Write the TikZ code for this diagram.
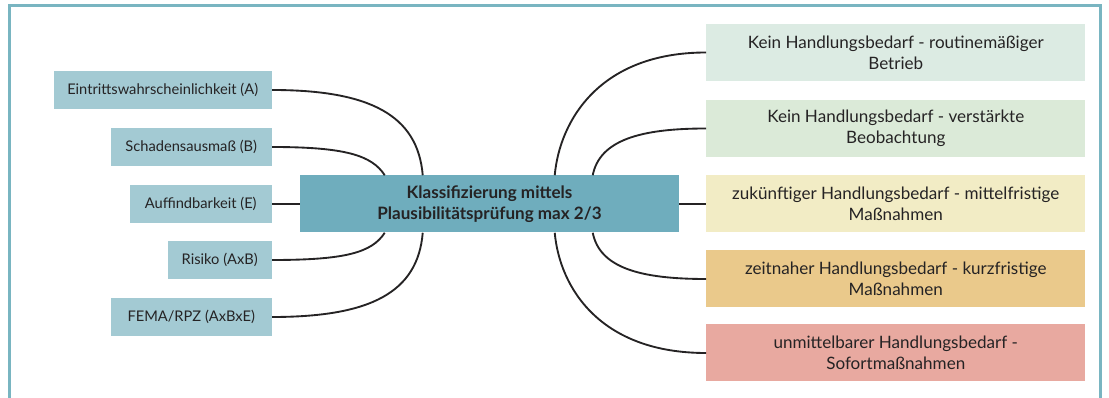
\documentclass[tikz,border=0pt]{standalone}
\usepackage{fontspec}
\setmainfont{Lato}
\usetikzlibrary{calc}

\definecolor{frameteal}{HTML}{79B5C1}
\definecolor{leftfill}{HTML}{A3CAD3}
\definecolor{hubfill}{HTML}{6FADBD}
\definecolor{fillone}{HTML}{DCEBE3}
\definecolor{filltwo}{HTML}{DBEAD8}
\definecolor{fillthree}{HTML}{F2ECC5}
\definecolor{fillfour}{HTML}{EAC98B}
\definecolor{fillfive}{HTML}{E8A9A0}
\definecolor{inkdark}{HTML}{252324}

\tikzset{
  leftbox/.style={fill=leftfill, anchor=east, minimum height=28.5pt,
    inner sep=0pt, text=inkdark, font=\fontsize{11}{14}\selectfont},
  hubbox/.style={fill=hubfill, minimum width=284.25pt, minimum height=42.75pt,
    inner sep=0pt, align=center, text=inkdark,
    font=\fontsize{12.8}{15.75}\selectfont\bfseries},
  rightbox/.style={anchor=west, minimum width=284.25pt, minimum height=42.75pt,
    inner sep=0pt, align=center, text=inkdark,
    font=\fontsize{12.8}{15.75}\selectfont},
  link/.style={draw=inkdark, line width=1.4pt},
  frameline/.style={draw=frameteal, line width=2.25pt}
}

\begin{document}
\begin{tikzpicture}[x=0.75pt, y=-0.75pt]
  \useasboundingbox (0,0) rectangle (1109,398);

  % open frame around the diagram
  \draw[frameline] (9,398) -- (9,6) -- (1100.5,6) -- (1100.5,398);

  % central node
  \node[hubbox] (hub) at (489.5,204)
    {Klassifizierung mittels\\Plausibilitätsprüfung max 2/3};

  % input criteria on the left
  \node[leftbox, minimum width=163.5pt]  (ea) at (272,90)  {Eintrittswahrscheinlichkeit (A)};
  \node[leftbox, minimum width=120.75pt] (sb) at (272,147) {Schadensausmaß (B)};
  \node[leftbox, minimum width=106.5pt]  (ae) at (272,204) {Auffindbarkeit (E)};
  \node[leftbox, minimum width=78pt]     (rk) at (272,260) {Risiko (AxB)};
  \node[leftbox, minimum width=120.75pt] (fm) at (272,317) {FEMA/RPZ (AxBxE)};

  % outcome classes on the right
  \node[rightbox, fill=fillone]   (r1) at (706,52.5)
    {Kein Handlungsbedarf - routinemäßiger\\Betrieb};
  \node[rightbox, fill=filltwo]   (r2) at (706,128.5)
    {Kein Handlungsbedarf - verstärkte\\Beobachtung};
  \node[rightbox, fill=fillthree] (r3) at (706,204)
    {zukünftiger Handlungsbedarf - mittelfristige\\Maßnahmen};
  \node[rightbox, fill=fillfour]  (r4) at (706,279)
    {zeitnaher Handlungsbedarf - kurzfristige\\Maßnahmen};
  \node[rightbox, fill=fillfive]  (r5) at (706,353)
    {unmittelbarer Handlungsbedarf -\\Sofortmaßnahmen};

  % attachment points on the hub's edges
  \coordinate (hA) at ($(hub.north west)+(123,0)$);
  \coordinate (hB) at ($(hub.north west)+(85,0)$);
  \coordinate (hR) at ($(hub.south west)+(85,0)$);
  \coordinate (hF) at ($(hub.south west)+(123,0)$);
  \coordinate (h1) at ($(hub.north west)+(255,0)$);
  \coordinate (h2) at ($(hub.north west)+(293,0)$);
  \coordinate (h4) at ($(hub.south west)+(293,0)$);
  \coordinate (h5) at ($(hub.south west)+(255,0)$);

  % connectors, left side
  \draw[link] (ea.east) .. controls +(98,0) and +(-5,-60) .. (hA);
  \draw[link] (sb.east) .. controls +(73,0) and +(-13,-20) .. (hB);
  \draw[link] (ae.east) -- (ae.east -| hub.west);
  \draw[link] (rk.east) .. controls +(73,0) and +(-13,20) .. (hR);
  \draw[link] (fm.east) .. controls +(98,0) and +(-5,60) .. (hF);

  % connectors, right side
  \draw[link] (h1) .. controls +(5,-55) and +(-106,0) .. (r1.west);
  \draw[link] (h2) .. controls +(7,-35) and +(-66,0) .. (r2.west);
  \draw[link] (hub.east) -- (r3.west);
  \draw[link] (h4) .. controls +(7,35) and +(-66,0) .. (r4.west);
  \draw[link] (h5) .. controls +(5,55) and +(-106,0) .. (r5.west);
\end{tikzpicture}
\end{document}
